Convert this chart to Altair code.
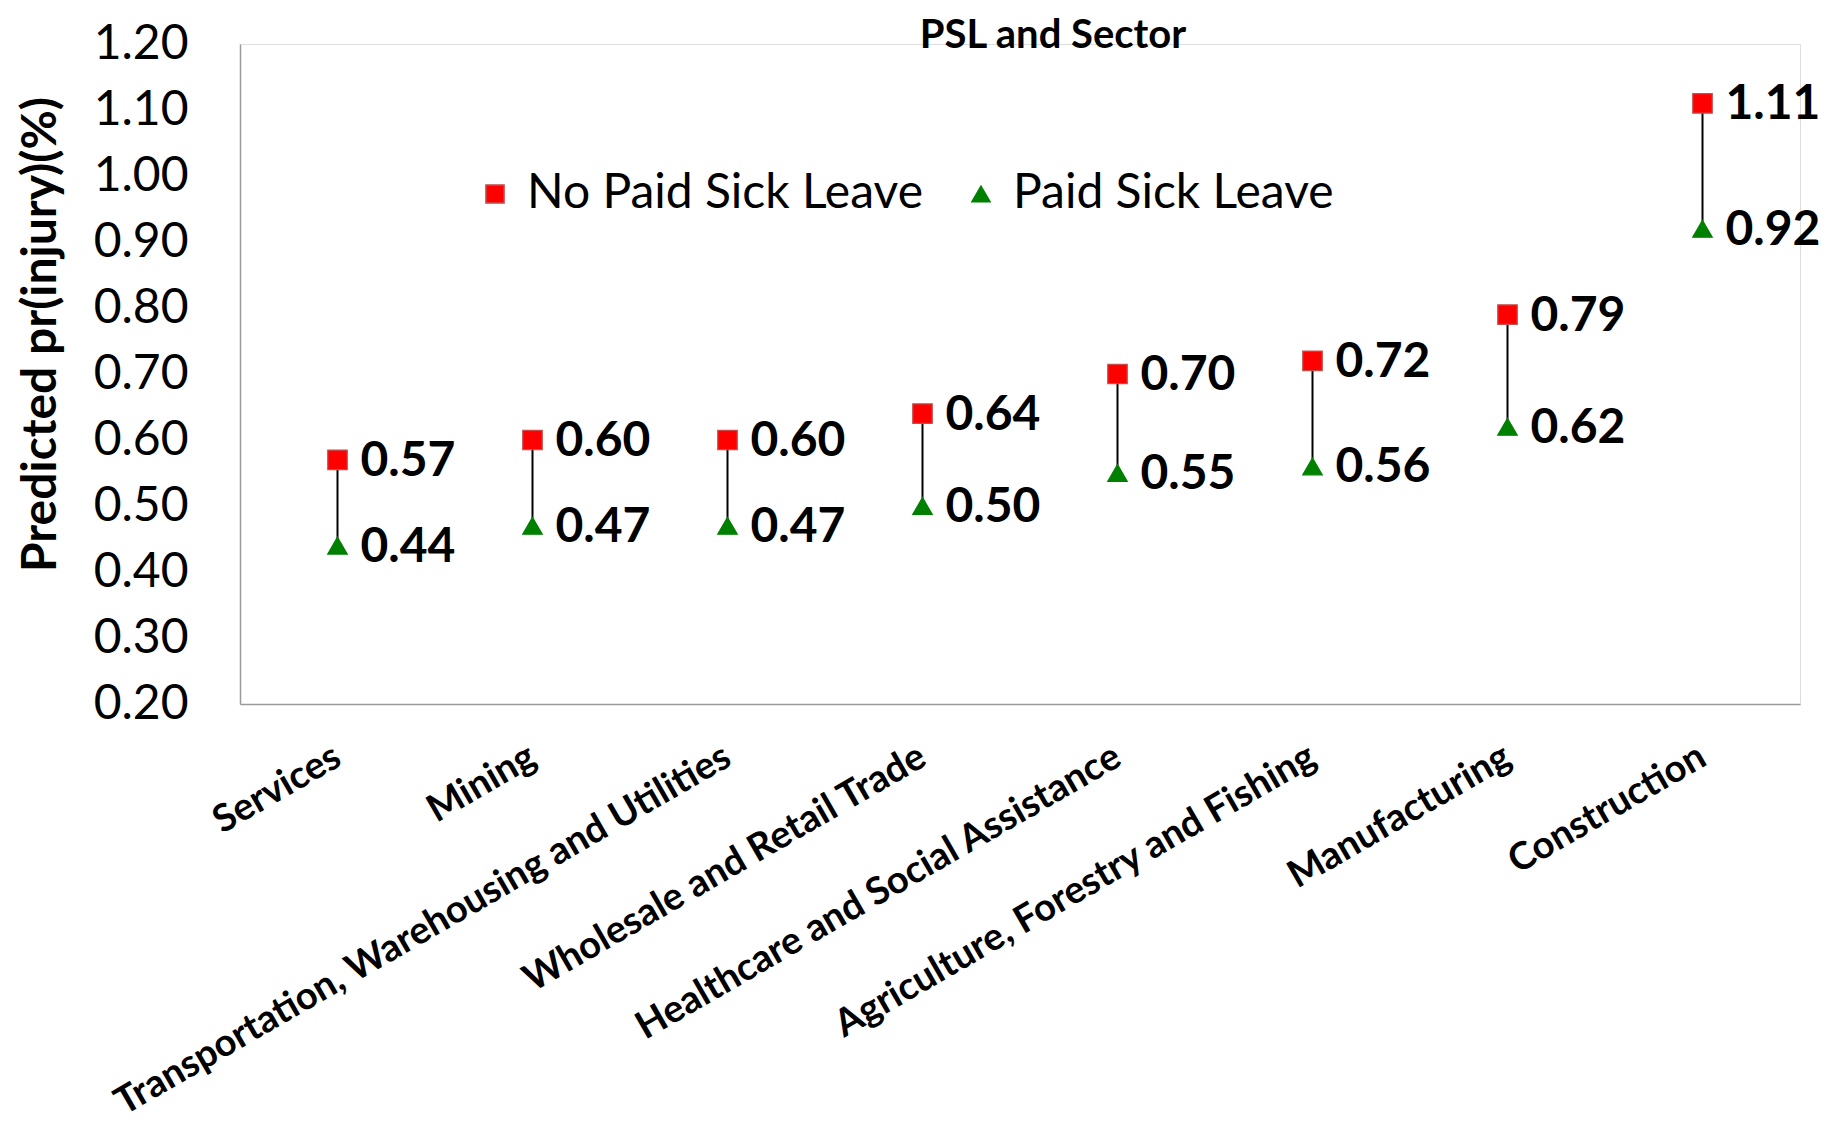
import altair as alt
import pandas as pd

chart_title = "PSL and Sector"
y_title = "Predicted pr(injury)(%)"
sectors = [
    "Services",
    "Mining",
    "Transportation, Warehousing and Utilities",
    "Wholesale and Retail Trade",
    "Healthcare and Social Assistance",
    "Agriculture, Forestry and Fishing",
    "Manufacturing",
    "Construction",
]
no_psl = [0.57, 0.60, 0.60, 0.64, 0.70, 0.72, 0.79, 1.11]
psl = [0.44, 0.47, 0.47, 0.50, 0.55, 0.56, 0.62, 0.92]
series_names = ["No Paid Sick Leave", "Paid Sick Leave"]
y_ticks = [0.2, 0.3, 0.4, 0.5, 0.6, 0.7, 0.8, 0.9, 1.0, 1.1, 1.2]

wide = pd.DataFrame({"sector": sectors, "no_psl": no_psl, "psl": psl})
long = pd.DataFrame({
    "sector": sectors * 2,
    "series": [series_names[0]] * len(sectors) + [series_names[1]] * len(sectors),
    "value": no_psl + psl,
})

FONT = "Lato"

x_enc = alt.X(
    "sector:N",
    sort=sectors,
    scale=alt.Scale(type="point", padding=0.5),
    axis=alt.Axis(
        title=None,
        labelAngle=-30,
        labelAlign="right",
        labelBaseline="middle",
        labelFontSize=38,
        labelFontWeight="bold",
        labelFont=FONT,
        labelColor="black",
        labelLimit=2000,
        labelPadding=50,
        ticks=False,
        domainColor="#9a9a9a",
        domainWidth=1.5,
    ),
)

y_scale = alt.Scale(domain=[0.2, 1.2], nice=False, zero=False)

y_axis = alt.Axis(
    title=y_title,
    values=y_ticks,
    format=".2f",
    grid=False,
    ticks=False,
    labelFontSize=48,
    labelFont=FONT,
    labelColor="black",
    labelPadding=52,
    domainColor="#9a9a9a",
    domainWidth=1.5,
    titleFont=FONT,
    titleFontSize=48,
    titleFontWeight="bold",
    titleColor="black",
    titleAngle=270,
    titleX=-199,
    titleY=290,
    titleAlign="center",
    titleBaseline="middle",
)

legend = alt.Legend(
    title=None,
    orient="none",
    legendX=231,
    legendY=126,
    direction="horizontal",
    labelFontSize=48,
    labelFont=FONT,
    labelColor="black",
    labelLimit=2000,
    symbolSize=330,
    columnPadding=34,
    labelOffset=8,
)

rules = alt.Chart(wide).mark_rule(color="black", strokeWidth=2).encode(
    x=x_enc,
    y=alt.Y("psl:Q", scale=y_scale, axis=y_axis),
    y2="no_psl:Q",
)

points = alt.Chart(long).mark_point(filled=True, size=380, opacity=1, strokeWidth=1.2).encode(
    x=x_enc,
    y=alt.Y("value:Q", scale=y_scale, axis=y_axis),
    color=alt.Color(
        "series:N",
        scale=alt.Scale(domain=series_names, range=["#FF0000", "#008000"]),
        legend=legend,
    ),
    shape=alt.Shape(
        "series:N",
        scale=alt.Scale(domain=series_names, range=["square", "triangle-up"]),
        legend=legend,
    ),
    stroke=alt.Stroke(
        "series:N",
        scale=alt.Scale(domain=series_names, range=["#C0504D", "#008000"]),
        legend=None,
    ),
)

labels = alt.Chart(long).mark_text(
    align="left", baseline="middle", dx=23, dy=2,
    fontSize=48, fontWeight="bold", font=FONT, color="black",
).encode(
    x=x_enc,
    y=alt.Y("value:Q", scale=y_scale, axis=y_axis),
    text=alt.Text("value:Q", format=".2f"),
)

title_text = alt.Chart(pd.DataFrame({"t": [chart_title]})).mark_text(
    align="center", baseline="top", fontSize=40, fontWeight="bold",
    font=FONT, color="black",
).encode(
    text="t:N",
    x=alt.value(813),
    y=alt.value(-28),
)

chart = alt.layer(rules, points, labels, title_text).properties(
    width=1560,
    height=660,
    autosize=alt.AutoSizeParams(type="none"),
    padding={"left": 232, "top": 36, "right": 20, "bottom": 418},
).configure_view(stroke=None).configure(background="white")

chart.save("out.html", embed_options={"renderer": "svg", "actions": False})
